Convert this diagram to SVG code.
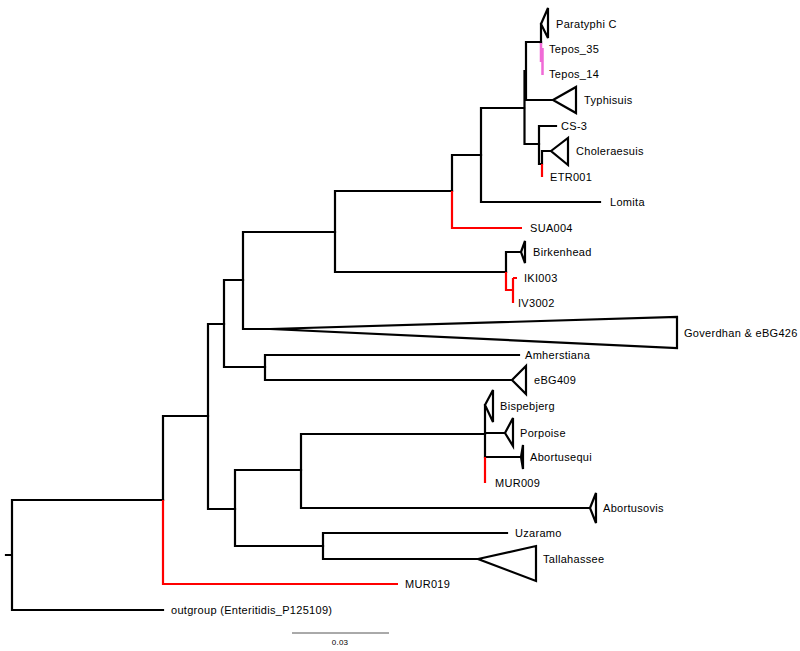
<svg xmlns="http://www.w3.org/2000/svg" width="800" height="651" viewBox="0 0 800 651">
<style>
.b{fill:none;stroke:#000;stroke-width:2.2;stroke-linecap:square}
.r{fill:none;stroke:#ff0000;stroke-width:2.2}
.p{fill:none;stroke:#f06ad6;stroke-width:2.5}
.t{fill:#fff;stroke:#000;stroke-width:2.2;stroke-linejoin:miter}
text{font-family:"Liberation Sans",Arial,sans-serif;font-size:11px;letter-spacing:0.3px;fill:#000}
.s{font-size:8px;letter-spacing:0.2px}
</style>
<rect width="800" height="651" fill="#fff"/>
<g id="connectors">
<path class="b" d="M6,555H12M12,500V610M12,500H163M12,610H163"/>
<path class="b" d="M163,416V500M163,416H208"/>
<path class="r" d="M163,500V584H398"/>
<path class="b" d="M208,324V509M208,324H224M208,509H235"/>
<path class="b" d="M224,280V367M224,280H243M224,367H265"/>
<path class="b" d="M243,232V329M243,232H335M243,329H272"/>
<path class="b" d="M335,191V272M335,191H452M335,272H506"/>
<path class="b" d="M452,155V191M452,155H481"/>
<path class="r" d="M452,191V228H522"/>
<path class="b" d="M481,108V202M481,108H524M481,202H600"/>
<path class="b" d="M524.5,71V144M526,42V100M526,42H541M526,100H552M524.5,144H539"/>
<path class="b" d="M541,24V43"/>
<path class="p" d="M541,43V62M542.5,48V75"/>
<path class="b" d="M539,126V164M539,126H556M539,164H542M542,151V164M542,151H551"/>
<path class="r" d="M542,164V177"/>
<path class="b" d="M506,252V272M506,252H521"/>
<path class="r" d="M506,272V290H513M513,278V303M513,278H517"/>
<path class="b" d="M265,355V380M265,355H519M265,380H512"/>
<path class="b" d="M235,470V546M235,470H301M235,546H323"/>
<path class="b" d="M301,434V508M301,434H485M301,508H590"/>
<path class="b" d="M485,405V457M485,433H505M485,457H522"/>
<path class="r" d="M485,457V483"/>
<path class="b" d="M323,533V559M323,533H507M323,559H478"/>
</g>
<g id="Paratyphi_C"><path class="t" d="M541,24L548,8V38Z"/><text x="556" y="28">Paratyphi C</text></g>
<g id="Tepos_35"><text x="549" y="53">Tepos_35</text></g>
<g id="Tepos_14"><text x="549" y="78">Tepos_14</text></g>
<g id="Typhisuis"><path class="t" d="M553,100L576,87V113Z"/><text x="584" y="104">Typhisuis</text></g>
<g id="CS-3"><text x="561" y="130">CS-3</text></g>
<g id="Choleraesuis"><path class="t" d="M551,151L568,138V165Z"/><text x="576" y="155">Choleraesuis</text></g>
<g id="ETR001"><text x="550" y="181">ETR001</text></g>
<g id="Lomita"><text x="610" y="206">Lomita</text></g>
<g id="SUA004"><text x="530" y="232">SUA004</text></g>
<g id="Birkenhead"><path class="t" d="M521,252L525,241V263Z"/><text x="533" y="256">Birkenhead</text></g>
<g id="IKI003"><text x="524" y="282">IKI003</text></g>
<g id="IV3002"><text x="518" y="307">IV3002</text></g>
<g id="Goverdhan"><path class="t" d="M270,329L677,317V348Z"/><text x="684" y="337">Goverdhan &amp; eBG426</text></g>
<g id="Amherstiana"><text x="525" y="359">Amherstiana</text></g>
<g id="eBG409"><path class="t" d="M512,380L526,366V394Z"/><text x="534" y="384">eBG409</text></g>
<g id="Bispebjerg"><path class="t" d="M485,405L493,390V422Z"/><text x="500" y="410">Bispebjerg</text></g>
<g id="Porpoise"><path class="t" d="M505,433L513,418V446Z"/><text x="520" y="437">Porpoise</text></g>
<g id="Abortusequi"><path class="t" d="M521,457L523,445V469Z"/><text x="530" y="461">Abortusequi</text></g>
<g id="MUR009"><text x="495" y="487">MUR009</text></g>
<g id="Abortusovis"><path class="t" d="M590,508L596,493V523Z"/><text x="603" y="512">Abortusovis</text></g>
<g id="Uzaramo"><text x="515" y="537">Uzaramo</text></g>
<g id="Tallahassee"><path class="t" d="M478,559L536,546V581Z"/><text x="543" y="563">Tallahassee</text></g>
<g id="MUR019"><text x="405" y="588">MUR019</text></g>
<g id="outgroup"><text x="171" y="614">outgroup (Enteritidis_P125109)</text></g>
<g id="scale"><path d="M292,633H389" stroke="#555" stroke-width="1"/><text class="s" x="340" y="645" text-anchor="middle">0.03</text></g>
</svg>
